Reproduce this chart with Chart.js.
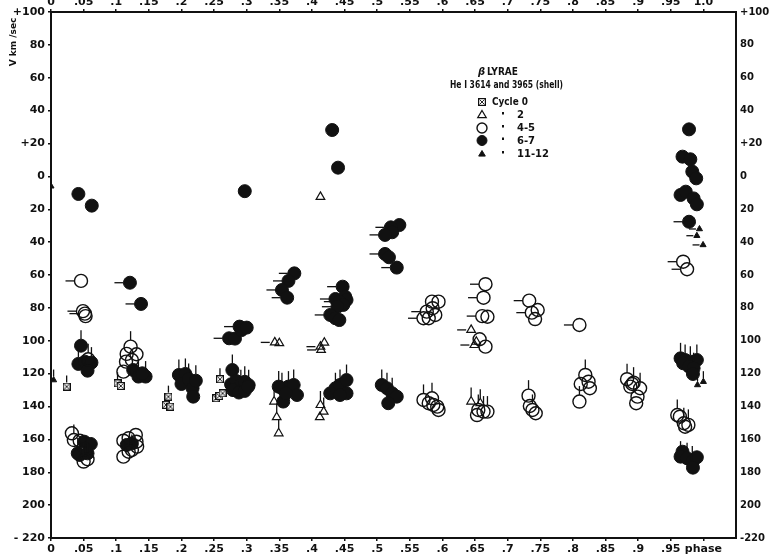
<!DOCTYPE html>
<html>
<head>
<meta charset="utf-8">
<script src="https://cdn.jsdelivr.net/npm/chart.js@4.4.1/dist/chart.umd.min.js"></script>
<style>
  html, body { margin: 0; padding: 0; background: #fff; }
  canvas { display: block; }
</style>
</head>
<body>
<canvas id="chart" width="769" height="558"></canvas>
<script>
// [phase, velocity km/sec, tail] ; tail 'v' = line up, 'h' = line to the left
const cycle0 = [
  [0.024,-127.9,'v'], [0.102,-125.9,'v'], [0.107,-127.5,''], [0.180,-134,'v'], [0.176,-139,''],
  [0.183,-140.1,''], [0.259,-123.4,'v'], [0.253,-135,''], [0.258,-133.6,''], [0.263,-132,'']
];
const cycle2 = [
  [0.413,-12.5,''],
  [0.343,-101,'h'], [0.350,-101.5,''], [0.419,-101.2,''], [0.413,-103.6,'h'], [0.414,-105.6,'h'],
  [0.342,-137,'v'], [0.346,-146.5,'v'], [0.349,-156.3,'v'],
  [0.413,-139.1,'v'], [0.412,-146.5,''], [0.418,-143.1,'v'],
  [0.644,-93.4,'h'], [0.649,-102.6,'h'], [0.652,-100.6,''],
  [0.644,-137,'v'], [0.658,-138,'v']
];
const cycle45 = [
  [0.046,-63.6,'h'], [0.049,-82,'h'], [0.052,-83.5,'h'], [0.053,-85,''], [0.057,-111.3,'v'],
  [0.032,-156.3,''], [0.035,-160.4,'v'], [0.044,-160.8,''], [0.052,-166,''], [0.056,-172.1,'v'], [0.050,-173.5,'v'],
  [0.122,-103.6,'v'], [0.116,-108,''], [0.131,-108.2,''], [0.115,-112.7,''], [0.124,-111.7,''], [0.111,-118.8,''],
  [0.111,-170.5,'v'], [0.111,-160.8,''], [0.119,-159.3,''], [0.130,-157.3,''], [0.131,-161.4,''],
  [0.124,-166.4,'v'], [0.132,-164.4,''], [0.119,-167.5,'v'],
  [0.584,-76.2,''], [0.594,-76.2,''], [0.576,-82.3,'h'], [0.589,-84.3,''], [0.571,-86.3,'h'], [0.579,-86.3,''], [0.585,-80.2,''],
  [0.571,-136,'v'], [0.579,-138,''], [0.584,-135,'v'], [0.592,-140.1,''], [0.594,-142.1,''], [0.586,-139.1,''],
  [0.666,-65.6,'h'], [0.663,-73.8,'h'], [0.661,-85,'h'], [0.669,-85.4,''], [0.657,-99.1,''], [0.666,-103.6,''],
  [0.655,-142.1,'v'], [0.663,-143.1,'v'], [0.669,-143.1,'v'], [0.653,-145.2,''],
  [0.733,-75.6,'h'], [0.737,-82.9,'h'], [0.746,-81.3,''], [0.742,-86.8,''],
  [0.810,-90.4,'h'],
  [0.732,-133.4,'v'], [0.734,-139.7,''], [0.738,-142.1,'v'], [0.743,-144.1,''],
  [0.819,-120.8,'v'], [0.812,-126.3,''], [0.824,-124.9,''], [0.826,-128.9,''], [0.810,-137,'v'],
  [0.883,-123.4,'v'], [0.891,-126.3,''], [0.893,-125.5,'v'], [0.903,-128.9,'v'], [0.899,-134,''], [0.897,-138,''], [0.888,-127.9,''],
  [0.969,-51.9,'h'], [0.975,-56.5,'h'],
  [0.960,-145.2,'v'], [0.964,-146.2,''], [0.970,-150.2,'v'], [0.977,-151.2,'v'], [0.972,-152.3,'']
];
const cycle67 = [
  [0.431,28.2,''], [0.440,5.3,''], [0.042,-10.7,''], [0.0625,-17.8,''], [0.297,-9,''],
  [0.978,28.6,''], [0.968,12,''], [0.980,10.4,''], [0.983,2.9,''], [0.989,-1.2,''], [0.965,-11.3,''],
  [0.973,-9.3,''], [0.985,-13.4,''], [0.990,-17,''], [0.978,-27.6,'h'],
  [0.534,-29.6,''], [0.521,-31,'h'], [0.523,-34,''], [0.512,-35.6,'h'], [0.512,-47.2,'h'], [0.518,-49.2,''], [0.530,-55.5,'h'],
  [0.046,-103,'v'], [0.042,-114.1,'v'], [0.052,-112.7,''], [0.062,-113.3,'v'], [0.056,-118.2,''],
  [0.051,-161.4,''], [0.061,-162.8,''], [0.041,-168.5,'v'], [0.044,-169.5,''], [0.056,-168.5,''],
  [0.121,-64.7,'h'], [0.138,-77.6,'h'], [0.126,-117.8,''], [0.134,-121.8,'v'], [0.145,-121.8,'v'], [0.140,-119.8,''],
  [0.124,-162.5,''], [0.116,-163.4,''],
  [0.196,-120.8,'v'], [0.206,-120.2,'v'], [0.200,-126.3,''], [0.211,-123.3,'v'], [0.217,-128.9,''], [0.222,-124.3,'v'], [0.218,-134,''],
  [0.273,-98.5,'h'], [0.282,-98.7,''], [0.289,-91.4,'h'], [0.292,-93.5,''], [0.300,-92,''],
  [0.278,-117.8,'v'], [0.276,-126.5,'v'], [0.284,-124.5,'v'], [0.291,-127,'v'], [0.297,-125,'v'], [0.303,-127,'v'],
  [0.279,-130,''], [0.288,-131.5,''], [0.297,-130.5,''], [0.302,-128,''],
  [0.354,-128.9,'v'], [0.364,-127.9,'v'], [0.372,-126.9,'v'], [0.377,-133,''], [0.356,-137,''], [0.349,-127.9,'v'], [0.360,-132,''],
  [0.373,-59,'h'], [0.364,-63.6,'h'], [0.354,-69.1,'h'], [0.362,-73.8,'h'],
  [0.447,-67.1,'h'], [0.436,-74.6,'h'], [0.451,-73.2,''], [0.453,-75.2,''], [0.442,-76.2,'h'], [0.448,-78.2,''],
  [0.439,-79.3,'h'], [0.428,-84.3,'h'], [0.436,-86.3,''], [0.442,-87.4,''],
  [0.428,-132,''], [0.436,-128.9,'v'], [0.443,-126.9,'v'], [0.453,-123.9,'v'], [0.453,-132,''], [0.443,-133,''],
  [0.507,-126.9,'v'], [0.515,-128.9,'v'], [0.523,-132,'v'], [0.530,-134,''], [0.517,-138,''],
  [0.965,-110.7,'v'], [0.972,-111.7,'v'], [0.980,-112.7,'v'], [0.990,-111.7,'v'], [0.969,-113.7,''],
  [0.978,-115.7,''], [0.985,-116.7,'v'], [0.984,-120.2,''],
  [0.968,-167.5,''], [0.965,-170.5,'v'], [0.975,-171.5,'v'], [0.983,-173.5,'v'], [0.990,-170.9,''], [0.984,-177.2,'v']
];
const cycle1112 = [
  [0.0,-6,''], [0.994,-32,'h'], [0.990,-36.1,'h'], [0.9995,-41.7,'h'],
  [0.004,-123.9,'v'], [0.991,-126.9,'v'], [1.0,-124.9,'v']
];

const phaseTicks = [0,0.05,0.1,0.15,0.2,0.25,0.3,0.35,0.4,0.45,0.5,0.55,0.6,0.65,0.7,0.75,0.8,0.85,0.9,0.95,1.0];
const legendRows = [
  { label: 'Cycle 0', ditto: false },
  { label: '2', ditto: true },
  { label: '4-5', ditto: true },
  { label: '6-7', ditto: true },
  { label: '11-12', ditto: true }
];

const INK = '#111';
const tickFont = { family: 'DejaVu Sans', size: 11, weight: 'bold' };
const rightFont = { family: 'DejaVu Sans', size: 10, weight: 'bold' };

// little hatched box used for cycle 0
function boxSymbol() {
  const c = document.createElement('canvas');
  c.width = 8; c.height = 8;
  const g = c.getContext('2d');
  g.fillStyle = '#fff';
  g.fillRect(0, 0, 8, 8);
  g.strokeStyle = INK;
  g.lineWidth = 1.2;
  g.strokeRect(0.6, 0.6, 6.8, 6.8);
  g.lineWidth = 0.9;
  g.beginPath();
  g.moveTo(1.5, 1.5); g.lineTo(6.5, 6.5);
  g.moveTo(6.5, 1.5); g.lineTo(1.5, 6.5);
  g.stroke();
  return c;
}
const box = boxSymbol();

const toPts = arr => arr.map(p => ({ x: p[0], y: p[1], t: p[2] }));

function phaseLabel(v) {
  if (Math.abs(v) < 1e-9) return '0';
  if (Math.abs(v - 1) < 1e-9) return '1.0';
  return String(+v.toFixed(2)).replace(/^0/, '');
}
function velLabel(v) {
  if (v === 100 || v === 20) return '+' + v;
  if (v === -220) return '- 220';
  return String(Math.abs(v));
}

const tails = {
  id: 'tails',
  afterDatasetsDraw(chart) {
    const ctx = chart.ctx;
    ctx.save();
    ctx.strokeStyle = INK;
    ctx.lineWidth = 1.3;
    chart.data.datasets.forEach((ds, i) => {
      const meta = chart.getDatasetMeta(i);
      const r = ds.pointRadius;
      const len = r > 4 ? 9 : 7;
      meta.data.forEach((el, j) => {
        const t = ds.data[j].t;
        if (!t) return;
        ctx.beginPath();
        if (t === 'v') {
          ctx.moveTo(el.x, el.y - r);
          ctx.lineTo(el.x, el.y - r - len);
        } else {
          ctx.moveTo(el.x - r, el.y);
          ctx.lineTo(el.x - r - len, el.y);
        }
        ctx.stroke();
      });
    });
    ctx.restore();
  }
};

const notes = {
  id: 'notes',
  afterDraw(chart) {
    const ctx = chart.ctx;
    ctx.save();
    ctx.fillStyle = INK;
    ctx.strokeStyle = INK;
    ctx.textBaseline = 'middle';

    // axis title
    ctx.save();
    ctx.translate(14, 42);
    ctx.rotate(-Math.PI / 2);
    ctx.textAlign = 'center';
    ctx.font = 'bold 9px "DejaVu Sans"';
    ctx.fillText('V km /sec', 0, 0, 58);
    ctx.restore();

    // legend block
    ctx.textAlign = 'left';
    ctx.font = 'bold italic 10px "DejaVu Sans"';
    ctx.fillText('\u03B2', 478, 72);
    ctx.font = 'bold 10px "DejaVu Sans"';
    ctx.fillText('LYRAE', 487, 72, 31);
    ctx.font = 'bold 10px "DejaVu Sans"';
    ctx.fillText('He I 3614 and 3965 (shell)', 450, 85, 113);

    const sx = 482, rowY = [102, 115, 128, 140.5, 154];
    chart.data.datasets.forEach((ds, i) => {
      const y = rowY[i];
      ctx.lineWidth = ds.borderWidth;
      ctx.fillStyle = ds.pointBackgroundColor;
      ctx.strokeStyle = INK;
      if (ds.pointStyle === 'circle') {
        ctx.beginPath();
        ctx.arc(sx, y, 5, 0, Math.PI * 2);
        ctx.fill(); ctx.stroke();
      } else if (ds.pointStyle === 'triangle') {
        const r = ds.pointRadius > 4 ? 4.5 : 3.5;
        ctx.beginPath();
        ctx.moveTo(sx, y - r);
        ctx.lineTo(sx + r * 0.95, y + r * 0.6);
        ctx.lineTo(sx - r * 0.95, y + r * 0.6);
        ctx.closePath();
        ctx.fill(); ctx.stroke();
      } else {
        ctx.drawImage(box, sx - 4, y - 4);
      }
      ctx.fillStyle = INK;
      const row = legendRows[i];
      ctx.font = 'bold 10px "DejaVu Sans"';
      if (row.ditto) {
        ctx.fillRect(502, y - 3, 2, 2.5);
        ctx.fillText(row.label, 517, y + 0.5);
      } else {
        ctx.fillText(row.label, 492, y + 0.5, 36);
      }
    });
    ctx.restore();
  }
};

const axisCommon = {
  grid: { display: true, drawOnChartArea: false, drawTicks: true, tickLength: 3, color: INK, lineWidth: 1.5 },
  border: { display: true, color: INK, width: 2 }
};

new Chart(document.getElementById('chart'), {
  type: 'scatter',
  data: {
    datasets: [
      { label: 'Cycle 0', data: toPts(cycle0), pointStyle: box, pointRadius: 4,
        pointBackgroundColor: '#fff', borderColor: INK, borderWidth: 1 },
      { label: '2', data: toPts(cycle2), pointStyle: 'triangle', pointRadius: 5,
        pointBackgroundColor: 'rgba(255,255,255,0)', pointBorderColor: INK, borderWidth: 1.2 },
      { label: '4-5', data: toPts(cycle45), pointStyle: 'circle', pointRadius: 6.5,
        pointBackgroundColor: 'rgba(255,255,255,0)', pointBorderColor: INK, borderWidth: 1.4 },
      { label: '6-7', data: toPts(cycle67), pointStyle: 'circle', pointRadius: 6.5,
        pointBackgroundColor: INK, pointBorderColor: INK, borderWidth: 1 },
      { label: '11-12', data: toPts(cycle1112), pointStyle: 'triangle', pointRadius: 3.5,
        pointBackgroundColor: INK, pointBorderColor: INK, borderWidth: 1 }
    ]
  },
  options: {
    responsive: false,
    animation: false,
    devicePixelRatio: 1,
    layout: { padding: 0 },
    plugins: { legend: { display: false }, tooltip: { enabled: false } },
    scales: {
      x: {
        ...axisCommon, type: 'linear', position: 'bottom', min: 0, max: 1.05,
        afterBuildTicks: s => { s.ticks = phaseTicks.map(v => ({ value: v })); },
        afterFit: s => { s.height = 20; },
        ticks: { font: tickFont, color: INK, padding: 2, maxRotation: 0, autoSkip: false,
          callback: v => Math.abs(v - 1) < 1e-9 ? 'phase' : phaseLabel(v) }
      },
      x2: {
        ...axisCommon, type: 'linear', position: 'top', min: 0, max: 1.05,
        afterBuildTicks: s => { s.ticks = phaseTicks.map(v => ({ value: v })); },
        afterFit: s => { s.height = 12; },
        ticks: { font: tickFont, color: INK, padding: 0, maxRotation: 0, autoSkip: false,
          callback: v => phaseLabel(v) }
      },
      y: {
        ...axisCommon, type: 'linear', position: 'left', min: -220, max: 100,
        afterFit: s => { s.width = 51; },
        ticks: { stepSize: 20, font: tickFont, color: INK, padding: 3, callback: velLabel }
      },
      y2: {
        ...axisCommon, type: 'linear', position: 'right', min: -220, max: 100,
        grid: { display: true, drawOnChartArea: false, drawTicks: true, tickLength: 3, color: 'rgba(0,0,0,0)' },
        afterFit: s => { s.width = 33; },
        ticks: { stepSize: 20, font: rightFont, color: INK, padding: 1,
          callback: v => v === -220 ? '-220' : velLabel(v) }
      }
    }
  },
  plugins: [tails, notes]
});
</script>
</body>
</html>
